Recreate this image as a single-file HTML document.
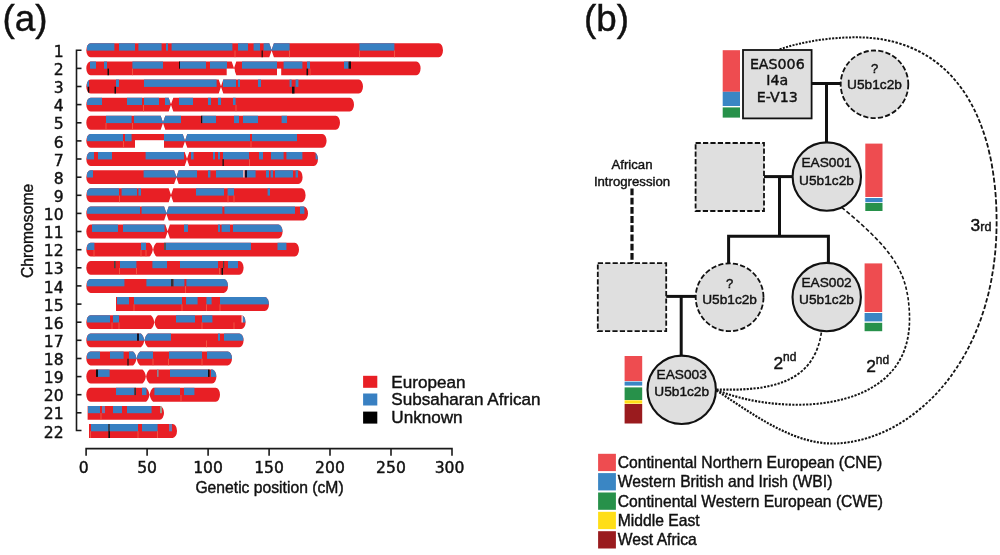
<!DOCTYPE html>
<html><head><meta charset="utf-8"><title>Figure</title>
<style>
html,body{margin:0;padding:0;background:#fff}
svg{display:block}
text{font-family:"Liberation Sans",sans-serif;fill:#111;stroke:#111;stroke-width:0.42px}
.dj{font-family:"DejaVu Sans","Liberation Sans",sans-serif}
</style></head><body>
<svg width="1000" height="555" viewBox="0 0 1000 555">
<rect width="1000" height="555" fill="#fff"/>
<defs>
<clipPath id="c1"><path d="M90.6,43.3 L269.3,43.3 L271.7,50.2 L269.3,57.2 L90.6,57.2 A4.3,6.95 0 0 1 90.6,43.3 Z M273.9,43.3 L438.7,43.3 A4.3,6.95 0 0 1 438.7,57.2 L273.9,57.2 L271.5,50.2 L273.9,43.3 Z "/></clipPath>
<clipPath id="c2"><path d="M90.6,61.4 L231.7,61.4 L234.1,68.4 L231.7,75.3 L90.6,75.3 A4.3,6.95 0 0 1 90.6,61.4 Z M236.3,61.4 L416.3,61.4 A4.3,6.95 0 0 1 416.3,75.3 L236.3,75.3 L233.9,68.4 L236.3,61.4 Z "/></clipPath>
<clipPath id="c3"><path d="M90.6,79.6 L218.7,79.6 L221.1,86.5 L218.7,93.5 L90.6,93.5 A4.3,6.95 0 0 1 90.6,79.6 Z M223.3,79.6 L358.7,79.6 A4.3,6.95 0 0 1 358.7,93.5 L223.3,93.5 L220.9,86.5 L223.3,79.6 Z "/></clipPath>
<clipPath id="c4"><path d="M90.6,97.7 L168.7,97.7 L171.1,104.6 L168.7,111.6 L90.6,111.6 A4.3,6.95 0 0 1 90.6,97.7 Z M173.3,97.7 L349.7,97.7 A4.3,6.95 0 0 1 349.7,111.6 L173.3,111.6 L170.9,104.6 L173.3,97.7 Z "/></clipPath>
<clipPath id="c5"><path d="M90.6,115.8 L160.7,115.8 L163.1,122.8 L160.7,129.7 L90.6,129.7 A4.3,6.95 0 0 1 90.6,115.8 Z M165.3,115.8 L335.7,115.8 A4.3,6.95 0 0 1 335.7,129.7 L165.3,129.7 L162.9,122.8 L165.3,115.8 Z "/></clipPath>
<clipPath id="c6"><path d="M90.6,133.9 L182.7,133.9 L185.1,140.9 L182.7,147.8 L90.6,147.8 A4.3,6.95 0 0 1 90.6,133.9 Z M187.3,133.9 L322.3,133.9 A4.3,6.95 0 0 1 322.3,147.8 L187.3,147.8 L184.9,140.9 L187.3,133.9 Z "/></clipPath>
<clipPath id="c7"><path d="M90.6,152.1 L184.7,152.1 L187.1,159.0 L184.7,166.0 L90.6,166.0 A4.3,6.95 0 0 1 90.6,152.1 Z M189.3,152.1 L313.7,152.1 A4.3,6.95 0 0 1 313.7,166.0 L189.3,166.0 L186.9,159.0 L189.3,152.1 Z "/></clipPath>
<clipPath id="c8"><path d="M90.6,170.2 L174.1,170.2 L176.5,177.2 L174.1,184.1 L90.6,184.1 A4.3,6.95 0 0 1 90.6,170.2 Z M178.7,170.2 L298.3,170.2 A4.3,6.95 0 0 1 298.3,184.1 L178.7,184.1 L176.3,177.2 L178.7,170.2 Z "/></clipPath>
<clipPath id="c9"><path d="M90.6,188.3 L168.7,188.3 L171.1,195.3 L168.7,202.2 L90.6,202.2 A4.3,6.95 0 0 1 90.6,188.3 Z M173.3,188.3 L301.3,188.3 A4.3,6.95 0 0 1 301.3,202.2 L173.3,202.2 L170.9,195.3 L173.3,188.3 Z "/></clipPath>
<clipPath id="c10"><path d="M90.6,206.5 L164.1,206.5 L166.5,213.4 L164.1,220.4 L90.6,220.4 A4.3,6.95 0 0 1 90.6,206.5 Z M168.7,206.5 L303.7,206.5 A4.3,6.95 0 0 1 303.7,220.4 L168.7,220.4 L166.3,213.4 L168.7,206.5 Z "/></clipPath>
<clipPath id="c11"><path d="M90.6,224.6 L165.3,224.6 L167.7,231.5 L165.3,238.5 L90.6,238.5 A4.3,6.95 0 0 1 90.6,224.6 Z M169.9,224.6 L278.3,224.6 A4.3,6.95 0 0 1 278.3,238.5 L169.9,238.5 L167.5,231.5 L169.9,224.6 Z "/></clipPath>
<clipPath id="c12"><path d="M90.6,242.7 L149.5,242.7 Q152.1,244.7 152.9,249.7 Q152.1,254.6 149.5,256.6 L90.6,256.6 A4.3,6.95 0 0 1 90.6,242.7 Z M156.5,242.7 L294.7,242.7 A4.3,6.95 0 0 1 294.7,256.6 L156.5,256.6 Q153.9,254.6 153.1,249.7 Q153.9,244.7 156.5,242.7 Z "/></clipPath>
<clipPath id="c13"><path d="M90.6,260.9 L239.3,260.9 A4.3,6.95 0 0 1 239.3,274.8 L90.6,274.8 A4.3,6.95 0 0 1 90.6,260.9 Z "/></clipPath>
<clipPath id="c14"><path d="M90.6,279.0 L223.7,279.0 A4.3,6.95 0 0 1 223.7,292.9 L90.6,292.9 A4.3,6.95 0 0 1 90.6,279.0 Z "/></clipPath>
<clipPath id="c15"><path d="M116.0,297.1 L264.7,297.1 A4.3,6.95 0 0 1 264.7,311.0 L116.0,311.0 Z "/></clipPath>
<clipPath id="c16"><path d="M90.6,315.2 L150.9,315.2 Q153.5,317.2 154.3,322.2 Q153.5,327.1 150.9,329.1 L90.6,329.1 A4.3,6.95 0 0 1 90.6,315.2 Z M157.9,315.2 L241.3,315.2 A4.3,6.95 0 0 1 241.3,329.1 L157.9,329.1 Q155.3,327.1 154.5,322.2 Q155.3,317.2 157.9,315.2 Z "/></clipPath>
<clipPath id="c17"><path d="M90.6,333.4 L140.9,333.4 Q143.5,335.4 144.3,340.3 Q143.5,345.3 140.9,347.3 L90.6,347.3 A4.3,6.95 0 0 1 90.6,333.4 Z M147.9,333.4 L239.3,333.4 A4.3,6.95 0 0 1 239.3,347.3 L147.9,347.3 Q145.3,345.3 144.5,340.3 Q145.3,335.4 147.9,333.4 Z "/></clipPath>
<clipPath id="c18"><path d="M90.6,351.5 L133.1,351.5 Q135.7,353.5 136.5,358.5 Q135.7,363.4 133.1,365.4 L90.6,365.4 A4.3,6.95 0 0 1 90.6,351.5 Z M140.1,351.5 L227.7,351.5 A4.3,6.95 0 0 1 227.7,365.4 L140.1,365.4 Q137.5,363.4 136.7,358.5 Q137.5,353.5 140.1,351.5 Z "/></clipPath>
<clipPath id="c19"><path d="M90.6,369.6 L142.5,369.6 Q145.1,371.6 145.9,376.6 Q145.1,381.5 142.5,383.5 L90.6,383.5 A4.3,6.95 0 0 1 90.6,369.6 Z M149.5,369.6 L212.1,369.6 A4.3,6.95 0 0 1 212.1,383.5 L149.5,383.5 Q146.9,381.5 146.1,376.6 Q146.9,371.6 149.5,369.6 Z "/></clipPath>
<clipPath id="c20"><path d="M90.6,387.8 L146.1,387.8 Q148.7,389.8 149.5,394.7 Q148.7,399.7 146.1,401.7 L90.6,401.7 A4.3,6.95 0 0 1 90.6,387.8 Z M153.1,387.8 L215.7,387.8 A4.3,6.95 0 0 1 215.7,401.7 L153.1,401.7 Q150.5,399.7 149.7,394.7 Q150.5,389.8 153.1,387.8 Z "/></clipPath>
<clipPath id="c21"><path d="M87.6,405.9 L159.7,405.9 A4.3,6.95 0 0 1 159.7,419.8 L87.6,419.8 Z "/></clipPath>
<clipPath id="c22"><path d="M89.0,424.0 L172.7,424.0 A4.3,6.95 0 0 1 172.7,437.9 L89.0,437.9 Z "/></clipPath>
</defs>
<!-- panel a -->
<text x="2.6" y="30.5" font-size="36.8">(a)</text>
<g id="chrom">
<g clip-path="url(#c1)"><rect x="85.3" y="42.3" width="358.7" height="15.9" fill="#e81f25"/><rect x="87.0" y="42.3" width="27.4" height="8.3" fill="#3880c2"/><rect x="119.0" y="42.3" width="16.0" height="8.3" fill="#3880c2"/><rect x="138.4" y="42.3" width="23.2" height="8.3" fill="#3880c2"/><rect x="166.0" y="42.3" width="2.0" height="8.3" fill="#3880c2"/><rect x="171.6" y="42.3" width="60.8" height="8.3" fill="#3880c2"/><rect x="238.0" y="42.3" width="10.0" height="8.3" fill="#3880c2"/><rect x="253.6" y="42.3" width="6.4" height="8.3" fill="#3880c2"/><rect x="263.6" y="42.3" width="26.0" height="8.3" fill="#3880c2"/><rect x="359.4" y="42.3" width="35.0" height="8.3" fill="#3880c2"/><rect x="261.6" y="50.5" width="1.2" height="8.0" fill="#111"/><rect x="234.6" y="50.5" width="0.8" height="8.0" fill="#f2604a"/><rect x="289.2" y="50.5" width="0.8" height="8.0" fill="#f2604a"/><rect x="359.0" y="50.5" width="0.8" height="8.0" fill="#f2604a"/><rect x="394.0" y="50.5" width="0.8" height="8.0" fill="#f2604a"/></g>
<g clip-path="url(#c2)"><rect x="85.3" y="60.4" width="336.3" height="15.9" fill="#e81f25"/><rect x="90.0" y="60.4" width="6.0" height="8.3" fill="#3880c2"/><rect x="104.0" y="60.4" width="3.0" height="8.3" fill="#3880c2"/><rect x="132.4" y="60.4" width="30.6" height="8.3" fill="#3880c2"/><rect x="179.0" y="60.4" width="1.0" height="8.3" fill="#111"/><rect x="180.0" y="60.4" width="26.0" height="8.3" fill="#3880c2"/><rect x="210.0" y="60.4" width="17.0" height="8.3" fill="#3880c2"/><rect x="242.0" y="60.4" width="35.0" height="8.3" fill="#3880c2"/><rect x="283.6" y="60.4" width="18.8" height="8.3" fill="#3880c2"/><rect x="307.0" y="60.4" width="3.0" height="8.3" fill="#3880c2"/><rect x="344.0" y="60.4" width="4.6" height="8.3" fill="#3880c2"/><rect x="348.6" y="60.4" width="2.4" height="8.3" fill="#111"/><rect x="107.5" y="68.6" width="1.5" height="8.0" fill="#111"/><rect x="306.5" y="68.6" width="1.5" height="8.0" fill="#111"/><rect x="132.0" y="68.6" width="0.8" height="8.0" fill="#f2604a"/><rect x="309.6" y="68.6" width="0.8" height="8.0" fill="#f2604a"/></g><rect x="226.7" y="68.6" width="7.9" height="8.2" fill="#fff"/><rect x="277.0" y="68.6" width="4.2" height="8.2" fill="#fff"/>
<g clip-path="url(#c3)"><rect x="85.3" y="78.6" width="278.7" height="15.9" fill="#e81f25"/><rect x="87.0" y="78.6" width="2.0" height="8.3" fill="#3880c2"/><rect x="116.0" y="78.6" width="3.0" height="8.3" fill="#3880c2"/><rect x="144.0" y="78.6" width="72.6" height="8.3" fill="#3880c2"/><rect x="223.0" y="78.6" width="13.0" height="8.3" fill="#3880c2"/><rect x="238.0" y="78.6" width="2.0" height="8.3" fill="#3880c2"/><rect x="258.0" y="78.6" width="3.0" height="8.3" fill="#3880c2"/><rect x="289.6" y="78.6" width="2.0" height="8.3" fill="#3880c2"/><rect x="295.6" y="78.6" width="2.8" height="8.3" fill="#3880c2"/><rect x="87.8" y="86.7" width="1.4" height="8.0" fill="#111"/><rect x="114.5" y="86.7" width="1.5" height="8.0" fill="#111"/><rect x="292.0" y="86.7" width="2.5" height="8.0" fill="#111"/></g>
<g clip-path="url(#c4)"><rect x="85.3" y="96.7" width="269.7" height="15.9" fill="#e81f25"/><rect x="87.0" y="96.7" width="15.0" height="8.3" fill="#3880c2"/><rect x="127.0" y="96.7" width="15.0" height="8.3" fill="#3880c2"/><rect x="144.0" y="96.7" width="15.0" height="8.3" fill="#3880c2"/><rect x="165.0" y="96.7" width="4.8" height="8.3" fill="#3880c2"/><rect x="179.0" y="96.7" width="14.0" height="8.3" fill="#3880c2"/><rect x="208.0" y="96.7" width="3.0" height="8.3" fill="#3880c2"/><rect x="218.0" y="96.7" width="3.0" height="8.3" fill="#3880c2"/><rect x="233.0" y="96.7" width="2.6" height="8.3" fill="#3880c2"/><rect x="143.1" y="104.8" width="0.8" height="8.0" fill="#f2604a"/><rect x="235.6" y="104.8" width="0.8" height="8.0" fill="#f2604a"/></g>
<g clip-path="url(#c5)"><rect x="85.3" y="114.8" width="255.7" height="15.9" fill="#e81f25"/><rect x="106.0" y="114.8" width="25.6" height="8.3" fill="#3880c2"/><rect x="134.0" y="114.8" width="47.0" height="8.3" fill="#3880c2"/><rect x="201.0" y="114.8" width="1.4" height="8.3" fill="#111"/><rect x="202.4" y="114.8" width="13.6" height="8.3" fill="#3880c2"/><rect x="234.0" y="114.8" width="5.0" height="8.3" fill="#3880c2"/><rect x="243.0" y="114.8" width="15.0" height="8.3" fill="#3880c2"/><rect x="281.6" y="114.8" width="5.4" height="8.3" fill="#3880c2"/><rect x="105.6" y="123.0" width="0.8" height="8.0" fill="#f2604a"/><rect x="132.1" y="123.0" width="0.8" height="8.0" fill="#f2604a"/></g>
<g clip-path="url(#c6)"><rect x="85.3" y="132.9" width="242.3" height="15.9" fill="#e81f25"/><rect x="87.0" y="132.9" width="36.0" height="8.3" fill="#3880c2"/><rect x="125.0" y="132.9" width="6.6" height="8.3" fill="#3880c2"/><rect x="164.0" y="132.9" width="86.0" height="8.3" fill="#3880c2"/><rect x="252.0" y="132.9" width="45.0" height="8.3" fill="#3880c2"/><rect x="123.1" y="141.1" width="0.8" height="8.0" fill="#f2604a"/><rect x="250.6" y="141.1" width="0.8" height="8.0" fill="#f2604a"/></g><rect x="135.0" y="140.2" width="29.0" height="9.1" fill="#fff"/>
<g clip-path="url(#c7)"><rect x="85.3" y="151.1" width="233.7" height="15.9" fill="#e81f25"/><rect x="87.0" y="151.1" width="7.0" height="8.3" fill="#3880c2"/><rect x="98.0" y="151.1" width="14.0" height="8.3" fill="#3880c2"/><rect x="145.6" y="151.1" width="38.4" height="8.3" fill="#3880c2"/><rect x="191.0" y="151.1" width="2.6" height="8.3" fill="#3880c2"/><rect x="213.0" y="151.1" width="2.0" height="8.3" fill="#3880c2"/><rect x="218.0" y="151.1" width="2.0" height="8.3" fill="#3880c2"/><rect x="223.0" y="151.1" width="26.0" height="8.3" fill="#3880c2"/><rect x="259.0" y="151.1" width="4.0" height="8.3" fill="#3880c2"/><rect x="271.0" y="151.1" width="12.6" height="8.3" fill="#3880c2"/><rect x="286.4" y="151.1" width="16.0" height="8.3" fill="#3880c2"/><rect x="315.6" y="151.1" width="2.4" height="8.3" fill="#3880c2"/><rect x="222.5" y="159.2" width="1.3" height="8.0" fill="#111"/><rect x="249.1" y="159.2" width="0.8" height="8.0" fill="#f2604a"/></g>
<g clip-path="url(#c8)"><rect x="85.3" y="169.2" width="218.3" height="15.9" fill="#e81f25"/><rect x="87.0" y="169.2" width="6.0" height="8.3" fill="#3880c2"/><rect x="143.6" y="169.2" width="53.4" height="8.3" fill="#3880c2"/><rect x="208.0" y="169.2" width="2.4" height="8.3" fill="#3880c2"/><rect x="216.0" y="169.2" width="27.4" height="8.3" fill="#3880c2"/><rect x="243.4" y="169.2" width="1.2" height="8.3" fill="#fff"/><rect x="244.8" y="169.2" width="2.2" height="8.3" fill="#0c1030"/><rect x="247.0" y="169.2" width="8.6" height="8.3" fill="#3880c2"/><rect x="266.0" y="169.2" width="3.0" height="8.3" fill="#3880c2"/><rect x="270.6" y="169.2" width="2.4" height="8.3" fill="#3880c2"/><rect x="275.0" y="169.2" width="18.0" height="8.3" fill="#3880c2"/><rect x="295.6" y="169.2" width="2.4" height="8.3" fill="#3880c2"/></g>
<g clip-path="url(#c9)"><rect x="85.3" y="187.3" width="221.3" height="15.9" fill="#e81f25"/><rect x="87.0" y="187.3" width="32.0" height="8.3" fill="#3880c2"/><rect x="121.6" y="187.3" width="15.4" height="8.3" fill="#3880c2"/><rect x="138.4" y="187.3" width="2.6" height="8.3" fill="#3880c2"/><rect x="196.0" y="187.3" width="28.0" height="8.3" fill="#3880c2"/><rect x="227.6" y="187.3" width="6.4" height="8.3" fill="#3880c2"/><rect x="267.6" y="187.3" width="2.4" height="8.3" fill="#3880c2"/><rect x="119.1" y="195.5" width="0.8" height="8.0" fill="#f2604a"/><rect x="227.6" y="195.5" width="0.8" height="8.0" fill="#f2604a"/><rect x="233.6" y="195.5" width="0.8" height="8.0" fill="#f2604a"/></g>
<g clip-path="url(#c10)"><rect x="85.3" y="205.5" width="223.7" height="15.9" fill="#e81f25"/><rect x="87.0" y="205.5" width="53.0" height="8.3" fill="#3880c2"/><rect x="141.6" y="205.5" width="80.8" height="8.3" fill="#3880c2"/><rect x="224.4" y="205.5" width="70.6" height="8.3" fill="#3880c2"/><rect x="300.0" y="205.5" width="4.4" height="8.3" fill="#3880c2"/></g>
<g clip-path="url(#c11)"><rect x="85.3" y="223.6" width="198.3" height="15.9" fill="#e81f25"/><rect x="92.0" y="223.6" width="26.0" height="8.3" fill="#3880c2"/><rect x="123.0" y="223.6" width="41.6" height="8.3" fill="#3880c2"/><rect x="184.0" y="223.6" width="4.0" height="8.3" fill="#3880c2"/><rect x="218.0" y="223.6" width="2.0" height="8.3" fill="#3880c2"/><rect x="221.6" y="223.6" width="8.4" height="8.3" fill="#3880c2"/><rect x="233.0" y="223.6" width="49.6" height="8.3" fill="#3880c2"/></g>
<g clip-path="url(#c12)"><rect x="85.3" y="241.7" width="214.7" height="15.9" fill="#e81f25"/><rect x="87.0" y="241.7" width="7.4" height="8.3" fill="#3880c2"/><rect x="141.0" y="241.7" width="5.0" height="8.3" fill="#3880c2"/><rect x="164.0" y="241.7" width="2.0" height="8.3" fill="#555"/><rect x="166.0" y="241.7" width="85.0" height="8.3" fill="#3880c2"/><rect x="277.5" y="241.7" width="8.9" height="8.3" fill="#3880c2"/><rect x="93.6" y="249.9" width="0.8" height="8.0" fill="#f2604a"/><rect x="140.6" y="249.9" width="0.8" height="8.0" fill="#f2604a"/><rect x="145.6" y="249.9" width="0.8" height="8.0" fill="#f2604a"/></g>
<g clip-path="url(#c13)"><rect x="85.3" y="259.9" width="159.3" height="15.9" fill="#e81f25"/><rect x="114.0" y="259.9" width="1.6" height="8.3" fill="#444"/><rect x="120.0" y="259.9" width="16.4" height="8.3" fill="#3880c2"/><rect x="152.4" y="259.9" width="14.6" height="8.3" fill="#3880c2"/><rect x="180.0" y="259.9" width="38.0" height="8.3" fill="#3880c2"/><rect x="223.0" y="259.9" width="1.2" height="8.3" fill="#444"/><rect x="228.0" y="259.9" width="10.0" height="8.3" fill="#3880c2"/><rect x="221.5" y="268.0" width="1.5" height="8.0" fill="#111"/><rect x="119.1" y="268.0" width="0.8" height="8.0" fill="#f2604a"/><rect x="136.0" y="268.0" width="0.8" height="8.0" fill="#f2604a"/><rect x="219.1" y="268.0" width="0.8" height="8.0" fill="#f2604a"/></g>
<g clip-path="url(#c14)"><rect x="85.3" y="278.0" width="143.7" height="15.9" fill="#e81f25"/><rect x="87.0" y="278.0" width="37.4" height="8.3" fill="#3880c2"/><rect x="146.4" y="278.0" width="24.6" height="8.3" fill="#3880c2"/><rect x="171.0" y="278.0" width="2.6" height="8.3" fill="#333"/><rect x="173.6" y="278.0" width="10.8" height="8.3" fill="#3880c2"/><rect x="186.4" y="278.0" width="41.6" height="8.3" fill="#3880c2"/><rect x="185.0" y="286.1" width="0.8" height="8.0" fill="#f2604a"/></g>
<g clip-path="url(#c15)"><rect x="115" y="296.1" width="155.0" height="15.9" fill="#e81f25"/><rect x="117.0" y="296.1" width="12.0" height="8.3" fill="#3880c2"/><rect x="134.0" y="296.1" width="48.0" height="8.3" fill="#3880c2"/><rect x="186.0" y="296.1" width="11.6" height="8.3" fill="#3880c2"/><rect x="206.4" y="296.1" width="5.2" height="8.3" fill="#3880c2"/><rect x="220.0" y="296.1" width="49.0" height="8.3" fill="#3880c2"/><rect x="133.6" y="304.3" width="0.8" height="8.0" fill="#f2604a"/><rect x="181.6" y="304.3" width="0.8" height="8.0" fill="#f2604a"/><rect x="206.0" y="304.3" width="0.8" height="8.0" fill="#f2604a"/><rect x="219.6" y="304.3" width="0.8" height="8.0" fill="#f2604a"/></g>
<g clip-path="url(#c16)"><rect x="85.3" y="314.2" width="161.3" height="15.9" fill="#e81f25"/><rect x="87.0" y="314.2" width="23.0" height="8.3" fill="#3880c2"/><rect x="113.0" y="314.2" width="6.0" height="8.3" fill="#3880c2"/><rect x="176.0" y="314.2" width="19.0" height="8.3" fill="#3880c2"/><rect x="202.0" y="314.2" width="10.4" height="8.3" fill="#3880c2"/><rect x="241.6" y="314.2" width="1.2" height="8.3" fill="#fff"/><rect x="242.8" y="314.2" width="2.8" height="8.3" fill="#3880c2"/><rect x="111.6" y="322.4" width="0.8" height="8.0" fill="#f2604a"/><rect x="118.6" y="322.4" width="0.8" height="8.0" fill="#f2604a"/><rect x="201.6" y="322.4" width="0.8" height="8.0" fill="#f2604a"/><rect x="233.6" y="322.4" width="0.8" height="8.0" fill="#f2604a"/></g>
<g clip-path="url(#c17)"><rect x="85.3" y="332.4" width="159.3" height="15.9" fill="#e81f25"/><rect x="87.0" y="332.4" width="50.0" height="8.3" fill="#3880c2"/><rect x="137.0" y="332.4" width="2.0" height="8.3" fill="#112"/><rect x="139.0" y="332.4" width="32.0" height="8.3" fill="#3880c2"/><rect x="218.0" y="332.4" width="2.0" height="8.3" fill="#3880c2"/><rect x="224.0" y="332.4" width="19.6" height="8.3" fill="#3880c2"/><rect x="206.1" y="340.5" width="0.8" height="8.0" fill="#f2604a"/></g>
<g clip-path="url(#c18)"><rect x="85.3" y="350.5" width="147.7" height="15.9" fill="#e81f25"/><rect x="87.0" y="350.5" width="13.0" height="8.3" fill="#3880c2"/><rect x="110.0" y="350.5" width="13.6" height="8.3" fill="#3880c2"/><rect x="129.0" y="350.5" width="24.0" height="8.3" fill="#3880c2"/><rect x="169.0" y="350.5" width="33.0" height="8.3" fill="#3880c2"/><rect x="207.0" y="350.5" width="25.0" height="8.3" fill="#3880c2"/><rect x="127.4" y="358.7" width="1.2" height="8.0" fill="#111"/><rect x="152.6" y="358.7" width="0.8" height="8.0" fill="#f2604a"/><rect x="168.1" y="358.7" width="0.8" height="8.0" fill="#f2604a"/><rect x="201.6" y="358.7" width="0.8" height="8.0" fill="#f2604a"/></g>
<g clip-path="url(#c19)"><rect x="85.3" y="368.6" width="132.1" height="15.9" fill="#e81f25"/><rect x="96.0" y="368.6" width="2.0" height="8.3" fill="#111"/><rect x="98.0" y="368.6" width="11.6" height="8.3" fill="#3880c2"/><rect x="157.0" y="368.6" width="1.6" height="8.3" fill="#889"/><rect x="170.0" y="368.6" width="38.0" height="8.3" fill="#3880c2"/><rect x="208.0" y="368.6" width="1.6" height="8.3" fill="#111"/><rect x="211.0" y="368.6" width="5.4" height="8.3" fill="#3880c2"/></g>
<g clip-path="url(#c20)"><rect x="85.3" y="386.8" width="135.7" height="15.9" fill="#e81f25"/><rect x="116.0" y="386.8" width="18.4" height="8.3" fill="#3880c2"/><rect x="134.4" y="386.8" width="1.6" height="8.3" fill="#333"/><rect x="142.0" y="386.8" width="4.5" height="8.3" fill="#3880c2"/><rect x="154.4" y="386.8" width="25.6" height="8.3" fill="#3880c2"/><rect x="184.0" y="386.8" width="10.4" height="8.3" fill="#3880c2"/><rect x="180.6" y="394.9" width="0.8" height="8.0" fill="#f2604a"/></g>
<g clip-path="url(#c21)"><rect x="86.6" y="404.9" width="78.4" height="15.9" fill="#e81f25"/><rect x="88.0" y="404.9" width="12.0" height="8.3" fill="#3880c2"/><rect x="102.0" y="404.9" width="3.0" height="8.3" fill="#6a78b0"/><rect x="113.0" y="404.9" width="9.0" height="8.3" fill="#3880c2"/><rect x="127.0" y="404.9" width="24.6" height="8.3" fill="#3880c2"/><rect x="160.0" y="404.9" width="2.0" height="8.3" fill="#998"/><rect x="100.6" y="413.0" width="0.8" height="8.0" fill="#f2604a"/></g>
<g clip-path="url(#c22)"><rect x="88" y="423.0" width="90.0" height="15.9" fill="#e81f25"/><rect x="91.0" y="423.0" width="17.0" height="8.3" fill="#3880c2"/><rect x="108.0" y="423.0" width="2.0" height="8.3" fill="#345"/><rect x="110.0" y="423.0" width="28.0" height="8.3" fill="#3880c2"/><rect x="142.0" y="423.0" width="15.6" height="8.3" fill="#3880c2"/><rect x="169.0" y="423.0" width="3.0" height="8.3" fill="#6a78b0"/><rect x="108.4" y="431.2" width="1.6" height="8.0" fill="#111"/><rect x="90.0" y="431.2" width="0.8" height="8.0" fill="#f2604a"/><rect x="137.6" y="431.2" width="0.8" height="8.0" fill="#f2604a"/><rect x="157.2" y="431.2" width="0.8" height="8.0" fill="#f2604a"/></g>
</g>
<g id="axes">
<path d="M86.1,455.7 V448.6 H452.0 V455.7" fill="none" stroke="#1a1a1a" stroke-width="1.6"/>
<path d="M147.1,448.6 v7.1" stroke="#1a1a1a" stroke-width="1.6"/>
<path d="M208.1,448.6 v7.1" stroke="#1a1a1a" stroke-width="1.6"/>
<path d="M269.1,448.6 v7.1" stroke="#1a1a1a" stroke-width="1.6"/>
<path d="M330.0,448.6 v7.1" stroke="#1a1a1a" stroke-width="1.6"/>
<path d="M391.0,448.6 v7.1" stroke="#1a1a1a" stroke-width="1.6"/>
<text x="83.7" y="472.5" text-anchor="middle" class="dj" font-size="15.6">0</text>
<text x="147.1" y="472.5" text-anchor="middle" class="dj" font-size="15.6">50</text>
<text x="208.1" y="472.5" text-anchor="middle" class="dj" font-size="15.6">100</text>
<text x="269.1" y="472.5" text-anchor="middle" class="dj" font-size="15.6">150</text>
<text x="330.0" y="472.5" text-anchor="middle" class="dj" font-size="15.6">200</text>
<text x="391.0" y="472.5" text-anchor="middle" class="dj" font-size="15.6">250</text>
<text x="449.6" y="472.5" text-anchor="middle" class="dj" font-size="15.6">300</text>
<path d="M81.5,50.2 H76.5 V430.5 H81.5" fill="none" stroke="#1a1a1a" stroke-width="1.6"/>
<path d="M76.5,68.4 h5" stroke="#1a1a1a" stroke-width="1.6"/>
<path d="M76.5,86.5 h5" stroke="#1a1a1a" stroke-width="1.6"/>
<path d="M76.5,104.6 h5" stroke="#1a1a1a" stroke-width="1.6"/>
<path d="M76.5,122.8 h5" stroke="#1a1a1a" stroke-width="1.6"/>
<path d="M76.5,140.9 h5" stroke="#1a1a1a" stroke-width="1.6"/>
<path d="M76.5,159.0 h5" stroke="#1a1a1a" stroke-width="1.6"/>
<path d="M76.5,177.2 h5" stroke="#1a1a1a" stroke-width="1.6"/>
<path d="M76.5,195.3 h5" stroke="#1a1a1a" stroke-width="1.6"/>
<path d="M76.5,213.4 h5" stroke="#1a1a1a" stroke-width="1.6"/>
<path d="M76.5,231.5 h5" stroke="#1a1a1a" stroke-width="1.6"/>
<path d="M76.5,249.7 h5" stroke="#1a1a1a" stroke-width="1.6"/>
<path d="M76.5,267.8 h5" stroke="#1a1a1a" stroke-width="1.6"/>
<path d="M76.5,285.9 h5" stroke="#1a1a1a" stroke-width="1.6"/>
<path d="M76.5,304.1 h5" stroke="#1a1a1a" stroke-width="1.6"/>
<path d="M76.5,322.2 h5" stroke="#1a1a1a" stroke-width="1.6"/>
<path d="M76.5,340.3 h5" stroke="#1a1a1a" stroke-width="1.6"/>
<path d="M76.5,358.5 h5" stroke="#1a1a1a" stroke-width="1.6"/>
<path d="M76.5,376.6 h5" stroke="#1a1a1a" stroke-width="1.6"/>
<path d="M76.5,394.7 h5" stroke="#1a1a1a" stroke-width="1.6"/>
<path d="M76.5,412.8 h5" stroke="#1a1a1a" stroke-width="1.6"/>
<text x="63.6" y="56.9" text-anchor="end" class="dj" font-size="15.6">1</text>
<text x="63.6" y="75.0" text-anchor="end" class="dj" font-size="15.6">2</text>
<text x="63.6" y="93.1" text-anchor="end" class="dj" font-size="15.6">3</text>
<text x="63.6" y="111.2" text-anchor="end" class="dj" font-size="15.6">4</text>
<text x="63.6" y="129.4" text-anchor="end" class="dj" font-size="15.6">5</text>
<text x="63.6" y="147.5" text-anchor="end" class="dj" font-size="15.6">6</text>
<text x="63.6" y="165.6" text-anchor="end" class="dj" font-size="15.6">7</text>
<text x="63.6" y="183.8" text-anchor="end" class="dj" font-size="15.6">8</text>
<text x="63.6" y="201.9" text-anchor="end" class="dj" font-size="15.6">9</text>
<text x="63.6" y="220.0" text-anchor="end" class="dj" font-size="15.6">10</text>
<text x="63.6" y="238.1" text-anchor="end" class="dj" font-size="15.6">11</text>
<text x="63.6" y="256.3" text-anchor="end" class="dj" font-size="15.6">12</text>
<text x="63.6" y="274.4" text-anchor="end" class="dj" font-size="15.6">13</text>
<text x="63.6" y="292.5" text-anchor="end" class="dj" font-size="15.6">14</text>
<text x="63.6" y="310.7" text-anchor="end" class="dj" font-size="15.6">15</text>
<text x="63.6" y="328.8" text-anchor="end" class="dj" font-size="15.6">16</text>
<text x="63.6" y="346.9" text-anchor="end" class="dj" font-size="15.6">17</text>
<text x="63.6" y="365.1" text-anchor="end" class="dj" font-size="15.6">18</text>
<text x="63.6" y="383.2" text-anchor="end" class="dj" font-size="15.6">19</text>
<text x="63.6" y="401.3" text-anchor="end" class="dj" font-size="15.6">20</text>
<text x="63.6" y="419.4" text-anchor="end" class="dj" font-size="15.6">21</text>
<text x="63.6" y="437.6" text-anchor="end" class="dj" font-size="15.6">22</text>
</g>
<text transform="translate(33.4,230.9) rotate(-90)" text-anchor="middle" font-size="15.7">Chromosome</text>
<text x="269.5" y="493.3" text-anchor="middle" font-size="15.7">Genetic position (cM)</text>
<g id="legA">
<rect x="363.1" y="375.8" width="14.2" height="12" fill="#e81f25"/>
<rect x="363.1" y="393.5" width="14.2" height="12" fill="#3880c2"/>
<rect x="363.1" y="411.6" width="14.2" height="12" fill="#000"/>
<text x="391.3" y="387.8" font-size="17.1">European</text>
<text x="391.3" y="404.9" font-size="17.1">Subsaharan African</text>
<text x="391.3" y="422.6" font-size="17.1">Unknown</text>
</g>
<g id="panelb">
<text x="584.1" y="30.5" font-size="36.8">(b)</text>
<path d="M716.5,389.5L718.5,389.6M719.8,389.6L721.8,389.7M723.1,389.7L725.1,389.7M726.4,389.7L728.5,389.7M729.8,389.7L731.8,389.7M733.1,389.7L735.2,389.7M736.5,389.6L738.6,389.6M739.9,389.5L742.0,389.4M743.3,389.4L745.4,389.2M746.7,389.2L748.8,389.0M750.1,388.9L752.2,388.7" fill="none" stroke="#151515" stroke-width="2.2"/><path d="M753.5,388.6L755.6,388.3M757.0,388.2L759.1,387.9M760.4,387.7L762.5,387.4M763.9,387.1L766.0,386.7M767.3,386.5L769.4,386.0M770.7,385.7L772.8,385.2M774.2,384.9L776.3,384.3M777.6,383.9L779.7,383.2M781.0,382.8L783.0,382.0M784.3,381.5L786.3,380.7M787.6,380.1L789.7,379.1M790.9,378.5L793.0,377.4M794.2,376.6L796.3,375.3M797.5,374.5L799.5,373.0" fill="none" stroke="#151515" stroke-width="2.0"/><path d="M800.7,372.1L802.7,370.4M803.8,369.3L805.7,367.4M806.8,366.3L808.6,364.2M809.6,362.9L811.2,360.5M812.1,359.1L813.6,356.6M814.4,355.0L815.8,352.3M816.5,350.7L817.6,347.7" fill="none" stroke="#151515" stroke-width="1.8"/><path d="M818.2,346.0L819.2,342.9M819.7,341.1L820.4,337.8M820.8,335.9L821.4,332.5" fill="none" stroke="#151515" stroke-width="1.6"/>
<path d="M716.5,390.0L718.4,390.7M719.6,391.2L721.4,391.9M722.7,392.4L724.6,393.0M725.8,393.5L727.7,394.1M728.9,394.5L730.9,395.1M732.1,395.5L734.1,396.0M735.3,396.4L737.3,396.9M738.6,397.3L740.5,397.8M741.8,398.1L743.8,398.6M745.1,398.9L747.1,399.3M748.3,399.6L750.3,400.0M751.6,400.3L753.6,400.7M755.0,400.9L757.0,401.3M758.3,401.5L760.3,401.8M761.6,402.0L763.7,402.3M765.0,402.5L767.0,402.8M768.4,403.0L770.4,403.2M771.7,403.4L773.8,403.6M775.1,403.7L777.2,403.9M778.5,404.0L780.6,404.2M782.0,404.2L784.0,404.4M785.4,404.5L787.5,404.5M788.8,404.6L790.9,404.7" fill="none" stroke="#151515" stroke-width="2.2"/><path d="M792.3,404.7L794.4,404.7M795.7,404.7L797.8,404.8M799.2,404.7L801.3,404.7M802.7,404.7L804.8,404.6M806.1,404.6L808.3,404.5M809.6,404.4L811.7,404.2M813.1,404.1L815.2,404.0M816.6,403.9L818.7,403.6M820.1,403.5L822.2,403.2M823.5,403.1L825.7,402.8M827.0,402.6L829.2,402.2M830.5,402.0L832.6,401.6M834.0,401.3L836.1,400.9M837.4,400.6L839.6,400.1M840.9,399.8L843.0,399.3M844.3,398.9L846.4,398.3M847.8,397.9L849.8,397.3M851.2,396.9L853.2,396.1M854.5,395.7L856.6,394.9M857.9,394.4L859.9,393.6M861.2,393.0L863.2,392.1M864.5,391.5L866.5,390.6M867.7,389.9L869.7,388.8M870.9,388.2L872.9,387.0M874.1,386.2L876.1,385.0M877.3,384.2L879.3,382.8M880.4,381.9L882.3,380.4M883.5,379.5L885.4,377.9M886.5,376.8L888.3,375.1" fill="none" stroke="#151515" stroke-width="2.0"/><path d="M889.3,374.0L891.1,372.1M892.1,371.0L893.7,369.0M894.7,367.7L896.3,365.6M897.2,364.3L898.6,362.1M899.4,360.7L900.7,358.3M901.5,356.8L902.7,354.3M903.3,352.8L904.4,350.2M904.9,348.6L905.8,345.9M906.3,344.3L907.0,341.5M907.4,339.8L908.0,336.9M908.3,335.2L908.7,332.2M909.0,330.5L909.2,327.5" fill="none" stroke="#151515" stroke-width="1.8"/><path d="M909.3,325.7L909.5,322.6M909.5,320.8L909.5,317.6M909.5,315.8L909.4,312.6M909.3,310.7L909.1,307.5M908.9,305.6L908.6,302.3M908.4,300.4L907.9,297.1M907.6,295.2L906.9,291.8M906.5,289.9L905.7,286.5M905.2,284.6L904.1,281.2M903.5,279.3L902.2,275.9M901.4,274.1L899.9,270.7M899.0,268.9L897.2,265.6M896.1,263.8L894.2,260.6M893.0,258.8L890.8,255.7M889.5,254.0L887.2,250.9M885.8,249.3L883.3,246.2M881.9,244.6L879.2,241.7M877.7,240.1L874.9,237.2M873.4,235.7L870.5,232.8M868.9,231.3L865.9,228.5M864.3,227.0L861.2,224.2M859.6,222.7L856.4,219.9M854.7,218.4L851.5,215.7M849.8,214.2L846.5,211.4M844.7,209.9L841.7,207.4" fill="none" stroke="#151515" stroke-width="1.6"/>
<path d="M716.5,390.5L718.2,391.6M719.3,392.3L721.0,393.4M722.0,394.1L723.7,395.2M724.8,395.9L726.5,397.0M727.6,397.7L729.2,398.8M730.3,399.6L732.0,400.7M733.1,401.4L734.8,402.5M735.8,403.2L737.5,404.3M738.6,405.0L740.3,406.2M741.4,406.9L743.1,408.0M744.2,408.7L745.9,409.8M747.0,410.5L748.7,411.6M749.8,412.3L751.5,413.3M752.6,414.0L754.3,415.1M755.4,415.8L757.2,416.9M758.3,417.5L760.0,418.6M761.2,419.2L762.9,420.3M764.0,420.9L765.8,421.9M766.9,422.6L768.7,423.6M769.9,424.2L771.7,425.2M772.8,425.8L774.6,426.8M775.8,427.4L777.6,428.3M778.8,428.9L780.6,429.8M781.8,430.3L783.7,431.2M784.8,431.8L786.7,432.6M787.9,433.1L789.8,433.9M791.0,434.4L792.9,435.2M794.1,435.7L796.1,436.4M797.3,436.9L799.3,437.5M800.5,438.0L802.5,438.6M803.7,439.0L805.7,439.6M807.0,439.9L809.0,440.4M810.2,440.8L812.3,441.2M813.5,441.5L815.6,441.9M816.9,442.1L818.9,442.5M820.2,442.7L822.3,442.9M823.6,443.1L825.7,443.3M827.0,443.3L829.0,443.4M830.3,443.5L832.4,443.5" fill="none" stroke="#151515" stroke-width="2.2"/><path d="M833.7,443.5L835.9,443.4M837.2,443.4L839.3,443.3M840.6,443.2L842.7,443.0M844.0,442.9L846.2,442.6M847.5,442.4L849.7,442.1M851.0,441.9L853.1,441.5M854.5,441.3L856.6,440.8M858.0,440.5L860.1,440.0M861.4,439.7L863.6,439.1M864.9,438.8L867.1,438.1M868.4,437.7L870.6,437.0M871.9,436.6L874.0,435.8M875.4,435.3L877.5,434.5M878.8,434.0L881.0,433.1M882.3,432.5L884.4,431.6M885.7,431.0L887.8,430.0M889.1,429.3L891.2,428.3M892.5,427.6L894.6,426.5M895.9,425.7L898.0,424.5M899.2,423.8L901.3,422.5M902.6,421.8L904.6,420.4M905.9,419.6L907.9,418.2M909.2,417.3L911.2,415.9M912.5,414.9L914.5,413.4M915.8,412.4L917.8,410.8M919.1,409.8L921.1,408.1M922.4,407.1L924.4,405.3M942.4,67.2L940.2,65.4M938.9,64.3L936.6,62.5M935.3,61.5L933.0,59.9M931.7,58.9L929.4,57.4M928.0,56.5L925.7,55.1M924.3,54.3L922.0,53.0M920.6,52.2L918.2,51.0M916.8,50.3L914.4,49.2M913.0,48.5L910.6,47.5M909.2,46.9L906.9,46.0M905.4,45.5L903.1,44.6M901.6,44.2L899.3,43.4M897.8,43.0L895.5,42.3M894.1,41.9L891.7,41.3M890.3,41.0L888.0,40.5M886.6,40.2L884.3,39.8M882.9,39.5L880.6,39.1M879.2,38.9L876.9,38.6M875.6,38.4L873.3,38.2M871.9,38.1L869.7,37.9M868.4,37.7L866.2,37.6M864.8,37.5L862.7,37.4M861.4,37.4L859.2,37.3M857.9,37.3L855.8,37.3M854.5,37.3L852.4,37.3M851.1,37.4L849.0,37.4M847.7,37.5L845.6,37.5M844.3,37.6L842.2,37.7M840.9,37.8L838.9,37.9M837.6,38.0L835.5,38.2M834.2,38.3L832.1,38.5M830.8,38.6L828.8,38.8M827.5,39.0L825.4,39.2M824.1,39.4L822.1,39.6M820.8,39.8L818.7,40.1M817.5,40.3L815.4,40.6M814.1,40.8L812.1,41.2M810.8,41.4L808.8,41.8M807.5,42.0L805.5,42.4M804.2,42.7L802.2,43.1M801.0,43.4L799.0,43.8M797.7,44.1L795.7,44.6M794.5,44.9L792.5,45.4M791.2,45.7L789.3,46.3M788.0,46.6L786.1,47.2M784.8,47.6L782.9,48.2M781.7,48.6L779.7,49.3" fill="none" stroke="#151515" stroke-width="2.0"/><path d="M925.6,404.2L927.6,402.4M928.8,401.2L930.8,399.3M932.0,398.1L934.0,396.1M935.2,394.9L937.2,392.8M938.3,391.5L940.3,389.3M941.4,388.0L943.3,385.7M944.5,384.4L946.4,382.0M947.5,380.6L949.4,378.1M950.5,376.7L952.4,374.1M953.4,372.6L955.3,369.8M956.4,368.3L958.2,365.4M959.3,363.8L961.1,360.8M962.1,359.2L963.9,356.1M964.9,354.4L966.7,351.1M967.6,349.4L969.4,345.9M970.2,344.2L972.0,340.6M972.8,338.8L974.5,335.1M975.3,333.2L976.9,329.3M977.7,327.4L979.2,323.4M980.0,321.4L981.5,317.2M982.1,315.3L983.5,311.0M984.2,309.0L985.5,304.6M986.0,302.6L987.2,298.2M987.8,296.2L988.9,291.6M989.3,289.6L990.4,285.0M990.8,282.9L991.7,278.2M992.0,276.2L992.8,271.4M993.2,269.3L993.8,264.4M994.1,262.4L994.7,257.4M994.9,255.4L995.4,250.3M995.6,248.3L995.9,243.2M996.1,241.1L996.3,235.9M996.4,233.9L996.5,228.6M996.6,226.6L996.6,221.2M996.6,219.2L996.5,213.9M996.5,211.9L996.3,206.5M996.2,204.5L995.9,199.2M995.8,197.2L995.4,192.0M995.2,190.0L994.7,184.8M994.4,182.7L993.8,177.6M993.5,175.6L992.8,170.5M992.4,168.5L991.6,163.5M991.2,161.4L990.2,156.5M989.7,154.5L988.6,149.6M988.1,147.6L986.9,143.0M986.3,141.1L985.0,136.7M984.4,134.8L983.0,130.6M982.3,128.7L980.9,124.8M980.2,123.0L978.6,119.2M977.9,117.5L976.3,113.9M975.5,112.2L973.9,108.8M973.0,107.2L971.3,103.9M970.4,102.3L968.6,99.2M967.7,97.6L965.8,94.7M964.8,93.1L962.9,90.3M961.9,88.9L959.9,86.2M958.8,84.8L956.8,82.2M955.7,80.9L953.6,78.5M952.5,77.2L950.4,74.9M949.2,73.6L947.0,71.5M945.8,70.3L943.6,68.4" fill="none" stroke="#151515" stroke-width="1.8"/>
<g stroke="#111" stroke-width="3" fill="none"><path d="M811,83.5 H841"/><path d="M826.5,83.5 V143"/><path d="M764,176.6 H793"/><path d="M779.5,176.6 V236.2"/><path d="M728.6,263.5 V236.2 H828.4 V263.5"/><path d="M666,296.4 H696"/><path d="M681.2,296.4 V356"/><path d="M632,188.5 V263.5" stroke-width="3.2" stroke-dasharray="6.8 2.4"/></g>
<g fill="#dfdfdf" stroke="#111" stroke-width="1.8"><rect x="743" y="50" width="68.6" height="68.4"/><circle cx="874.5" cy="84.3" r="33.8" stroke-dasharray="5.2 2.2"/><rect x="695.6" y="143" width="68.4" height="68" stroke-dasharray="5.2 2.2"/><circle cx="826.8" cy="176.6" r="34.2" stroke-width="2.1"/><rect x="597.8" y="263.2" width="68.4" height="68" stroke-dasharray="5.2 2.2"/><circle cx="729.6" cy="297.3" r="33.9" stroke-dasharray="5.2 2.2"/><circle cx="826.7" cy="297.1" r="34.2" stroke-width="2.1"/><circle cx="681.7" cy="389.8" r="34.2" stroke-width="2.1"/></g>
<rect x="722.7" y="50.2" width="17.3" height="41.6" fill="#ee4c50"/><rect x="722.7" y="91.8" width="17.3" height="14.2" fill="#3a86c4"/><rect x="722.7" y="107.4" width="17.3" height="10.2" fill="#27914a"/>
<rect x="865.3" y="143.6" width="17.2" height="53.4" fill="#ee4c50"/><rect x="865.3" y="198" width="17.2" height="4.2" fill="#3a86c4"/><rect x="865.3" y="203" width="17.2" height="8.0" fill="#27914a"/>
<rect x="864.6" y="263.4" width="17.6" height="48.6" fill="#ee4c50"/><rect x="864.6" y="313" width="17.6" height="8.4" fill="#3a86c4"/><rect x="864.6" y="322.8" width="17.6" height="8.4" fill="#27914a"/>
<rect x="624.6" y="356" width="17.6" height="25.0" fill="#ee4c50"/><rect x="624.6" y="381.6" width="17.6" height="4.0" fill="#3a86c4"/><rect x="624.6" y="387.4" width="17.6" height="12.6" fill="#27914a"/><rect x="624.6" y="400.3" width="17.6" height="3.3" fill="#ffde17"/><rect x="624.6" y="404" width="17.6" height="19.5" fill="#9a1b1e"/>
<text x="777.3" y="68.7" text-anchor="middle" font-size="14.2" class="dj">EAS006</text>
<text x="777.3" y="85.4" text-anchor="middle" font-size="14.2" class="dj">I4a</text>
<text x="777.3" y="102.2" text-anchor="middle" font-size="14.2" class="dj">E-V13</text>
<text x="874.5" y="73" text-anchor="middle" font-size="13">?</text>
<text x="874.5" y="89.4" text-anchor="middle" font-size="13.7">U5b1c2b</text>
<text x="826.5" y="167.4" text-anchor="middle" font-size="13.7">EAS001</text>
<text x="826.5" y="184.6" text-anchor="middle" font-size="13.7">U5b1c2b</text>
<text x="729.6" y="287.6" text-anchor="middle" font-size="13">?</text>
<text x="729.6" y="304.4" text-anchor="middle" font-size="13.7">U5b1c2b</text>
<text x="826.5" y="287.2" text-anchor="middle" font-size="13.7">EAS002</text>
<text x="826.5" y="304.4" text-anchor="middle" font-size="13.7">U5b1c2b</text>
<text x="681.7" y="378.8" text-anchor="middle" font-size="13.7">EAS003</text>
<text x="681.7" y="396" text-anchor="middle" font-size="13.7">U5b1c2b</text>
<text x="632" y="169.3" text-anchor="middle" font-size="13.2">African</text>
<text x="632" y="186.2" text-anchor="middle" font-size="13.2">Introgression</text>
<text x="773.4" y="368.6" font-size="17.4">2<tspan font-size="12" dy="-7.4">nd</tspan></text>
<text x="866.2" y="371.5" font-size="17.4">2<tspan font-size="12" dy="-7.4">nd</tspan></text>
<text x="970.6" y="230.9" font-size="17.4">3<tspan font-size="12.6">rd</tspan></text>
<rect x="598.1" y="453.8" width="17.8" height="17.3" fill="#ee4c50"/>
<text transform="translate(617.8,467.9) scale(0.967,1)" font-size="16.2">Continental Northern European (CNE)</text>
<rect x="598.1" y="473.1" width="17.8" height="17.3" fill="#3a86c4"/>
<text transform="translate(617.8,487.4) scale(0.967,1)" font-size="16.2">Western British and Irish (WBI)</text>
<rect x="598.1" y="492.5" width="17.8" height="17.3" fill="#27914a"/>
<text transform="translate(617.8,506.7) scale(0.967,1)" font-size="16.2">Continental Western European (CWE)</text>
<rect x="598.1" y="511.8" width="17.8" height="17.3" fill="#ffde17"/>
<text transform="translate(617.8,525.9) scale(0.967,1)" font-size="16.2">Middle East</text>
<rect x="598.1" y="531.2" width="17.8" height="17.3" fill="#9a1b1e"/>
<text transform="translate(617.8,545.2) scale(0.967,1)" font-size="16.2">West Africa</text>
</g>
</svg>
</body></html>
